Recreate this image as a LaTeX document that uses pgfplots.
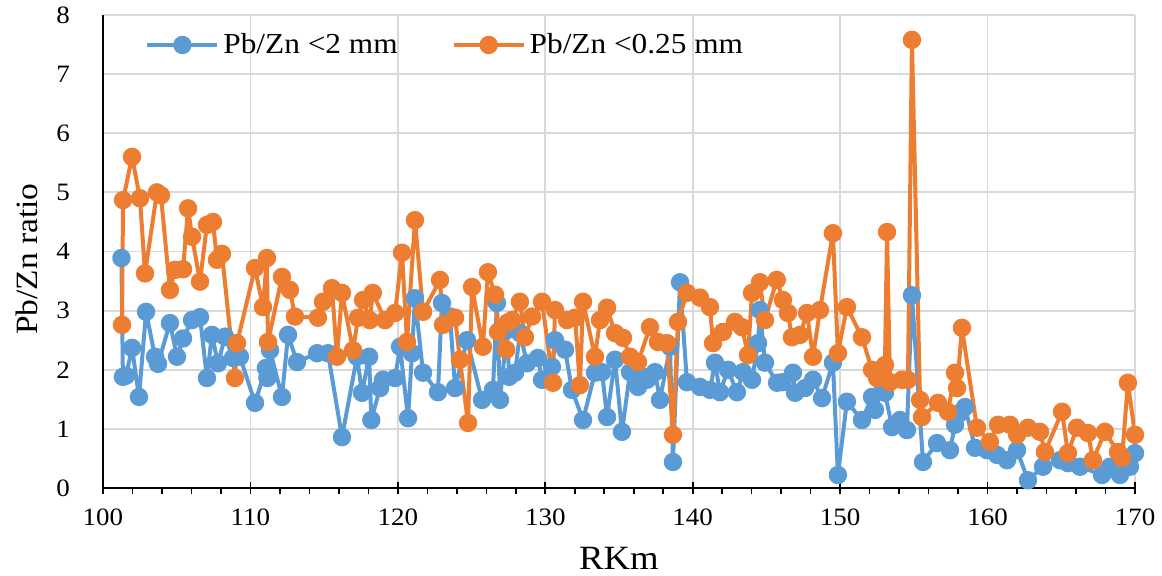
\documentclass[border=0pt]{standalone}
\usepackage{fontspec}
\setmainfont[FakeStretch=1.08]{Liberation Serif}
\usepackage{pgfplots}
\pgfplotsset{compat=1.18}
\definecolor{cblue}{HTML}{5B9BD5}
\definecolor{corange}{HTML}{ED7D31}
\definecolor{cgrid}{HTML}{D9D9D9}
\begin{document}
\begin{tikzpicture}
\begin{axis}[
  name=ax, at={(0,0)}, anchor=south west,
  scale only axis, width=516pt, height=236.5pt,
  xmin=100, xmax=170, ymin=0, ymax=8,
  xtick={100,110,...,170}, ytick={0,1,...,8},
  minor x tick num=4,
  axis lines=left, axis line style={-, black, line width=0.8pt},
  tick align=outside,
  x tick style={black, line width=0.8pt}, major tick length=3pt, minor tick length=3pt,
  extra x ticks={100,110,...,170}, extra x tick labels={},
  extra x tick style={tick align=center, major tick length=6pt, grid=none},
  y tick style={draw=none},
  grid=major, major grid style={cgrid, line width=0.9pt},
  /pgf/number format/assume math mode=true,
  ticklabel style={font=\fontsize{12.5}{14}\selectfont},
  xticklabel style={yshift=-4pt},
  yticklabel style={xshift=-10pt},
  xlabel={RKm}, ylabel={Pb/Zn ratio},
  every axis x label/.style={at={(rel axis cs:0.5,0)}, anchor=center, yshift=-35pt, font=\fontsize{17}{19}\selectfont},
  every axis y label/.style={at={(rel axis cs:0,0.484)}, anchor=center, rotate=90, yshift=38pt, font=\fontsize{15.5}{18}\selectfont},
  legend columns=2,
  legend style={draw=none, fill=none, at={(rel axis cs:0,1)}, anchor=north west, xshift=18pt, yshift=-5pt,
    font=\fontsize{14.5}{16}\selectfont,
    /tikz/every even column/.append style={column sep=25pt}},
  legend image code/.code={\draw[mark repeat=2,mark phase=2] plot coordinates {(0pt,0pt) (17.5pt,0pt) (35pt,0pt)};},
  every axis plot/.append style={line width=2pt, line join=round, mark=*, mark size=3.6pt},
]
\addplot[cblue, mark options={fill=cblue, draw=cblue}] coordinates {
(101.25,3.89)(101.35,1.88)(101.56,1.90)(101.97,2.37)(102.44,1.54)(102.92,2.98)(103.53,2.22)(103.73,2.10)(104.54,2.79)(105.02,2.22)(105.43,2.53)(106.04,2.84)(106.58,2.89)(107.05,1.86)(107.39,2.59)(107.80,2.11)(108.28,2.56)(108.82,2.20)(109.29,2.22)(110.31,1.44)(111.05,2.03)(111.15,1.86)(111.33,2.33)(112.14,1.54)(112.55,2.59)(113.16,2.13)(114.52,2.28)(115.26,2.28)(116.21,0.86)(117.23,2.22)(117.57,1.61)(118.05,2.22)(118.2,1.15)(118.79,1.69)(118.99,1.83)(119.81,1.86)(120.15,2.39)(120.69,1.18)(120.96,2.28)(121.16,3.21)(121.71,1.95)(122.72,1.62)(122.99,3.13)(123.54,2.90)(123.88,1.69)(124.69,2.50)(125.71,1.49)(126.45,1.66)(126.72,3.13)(126.93,1.49)(127.40,2.67)(127.55,1.88)(127.95,1.95)(128.28,2.62)(128.76,2.11)(129.50,2.20)(129.78,1.83)(130.45,2.05)(130.66,2.50)(131.34,2.34)(131.81,1.66)(132.56,1.15)(133.37,1.95)(133.85,1.96)(134.19,1.20)(134.73,2.17)(135.20,0.95)(135.75,1.96)(136.29,1.71)(136.63,1.88)(136.90,1.83)(137.44,1.96)(137.78,1.49)(138.46,2.39)(138.66,0.44)(139.14,3.48)(139.61,1.79)(140.49,1.71)(141.17,1.66)(141.51,2.12)(141.85,1.62)(142.39,2.00)(143.00,1.62)(143.41,1.96)(144.02,1.83)(144.43,2.45)(144.56,3.01)(144.90,2.12)(145.72,1.78)(146.1,1.79)(146.80,1.95)(146.94,1.61)(147.62,1.69)(148.16,1.83)(148.77,1.52)(149.51,2.12)(149.85,0.22)(150.46,1.46)(151.48,1.15)(152.16,1.54)(152.36,1.32)(152.84,1.78)(153.04,1.61)(153.52,1.03)(154.06,1.15)(154.53,0.98)(154.87,3.26)(155.62,0.44)(156.57,0.76)(157.45,0.64)(157.79,1.07)(158.13,1.27)(158.47,1.37)(159.15,0.68)(159.96,0.64)(160.64,0.56)(161.32,0.47)(162.00,0.64)(162.74,0.13)(163.76,0.36)(164.91,0.47)(165.45,0.42)(166.27,0.36)(167.76,0.22)(168.30,0.36)(168.98,0.22)(169.66,0.36)(170.00,0.59)
};
\addlegendentry{Pb/Zn <2 mm}
\addplot[corange, mark options={fill=corange, draw=corange}] coordinates {
(101.29,2.76)(101.36,4.87)(101.97,5.60)(102.51,4.90)(102.85,3.63)(103.66,5.00)(103.93,4.95)(104.54,3.35)(104.88,3.69)(105.43,3.70)(105.77,4.73)(106.04,4.25)(106.58,3.49)(107.05,4.45)(107.46,4.50)(107.73,3.86)(108.07,3.96)(108.95,1.86)(109.09,2.45)(110.31,3.72)(110.85,3.06)(111.12,3.89)(111.19,2.47)(112.14,3.57)(112.68,3.35)(113.02,2.90)(114.58,2.88)(114.92,3.15)(115.53,3.38)(115.87,2.22)(116.21,3.30)(116.96,2.33)(117.30,2.88)(117.64,3.18)(118.1,2.84)(118.3,3.30)(119.13,2.84)(119.81,2.96)(120.28,3.98)(120.62,2.47)(121.16,4.53)(121.71,2.98)(122.86,3.52)(123.06,2.76)(123.88,2.88)(124.21,2.17)(124.76,1.10)(125.03,3.40)(125.77,2.39)(126.11,3.65)(126.59,3.27)(126.79,2.64)(127.35,2.34)(127.45,2.80)(127.74,2.84)(128.28,3.15)(128.62,2.55)(129.10,2.90)(129.78,3.15)(130.52,1.78)(130.66,3.01)(131.47,2.84)(132.02,2.88)(132.35,1.74)(132.56,3.15)(133.37,2.22)(133.71,2.84)(134.19,3.05)(134.73,2.62)(135.27,2.54)(135.75,2.22)(136.29,2.13)(137.10,2.72)(137.64,2.47)(138.26,2.45)(138.66,0.90)(139.00,2.81)(139.61,3.30)(140.49,3.22)(141.17,3.06)(141.38,2.45)(142.05,2.64)(142.87,2.81)(143.34,2.72)(143.75,2.25)(144.02,3.30)(144.56,3.48)(144.90,2.84)(145.70,3.52)(146.12,3.18)(146.46,2.96)(146.73,2.55)(147.28,2.59)(147.75,2.96)(148.16,2.22)(148.63,3.01)(149.51,4.31)(149.85,2.28)(150.46,3.06)(151.48,2.55)(152.16,2.00)(152.50,1.86)(153.04,2.08)(153.18,4.33)(153.38,1.79)(154.19,1.83)(154.60,1.83)(154.87,7.58)(155.42,1.49)(155.55,1.20)(156.64,1.44)(157.31,1.29)(157.79,1.95)(157.93,1.69)(158.26,2.71)(159.28,1.02)(160.16,0.78)(160.71,1.07)(161.52,1.07)(162.00,0.90)(162.74,1.02)(163.55,0.95)(163.89,0.61)(165.05,1.29)(165.45,0.59)(166.06,1.02)(166.81,0.93)(167.15,0.47)(167.96,0.95)(168.85,0.61)(169.12,0.51)(169.52,1.78)(170.00,0.90)
};
\addlegendentry{Pb/Zn <0.25 mm}
\end{axis}
\pgfresetboundingbox
\path[use as bounding box] (-51.5pt,-43.5pt) rectangle (529.5pt,244pt);
\end{tikzpicture}
\end{document}
